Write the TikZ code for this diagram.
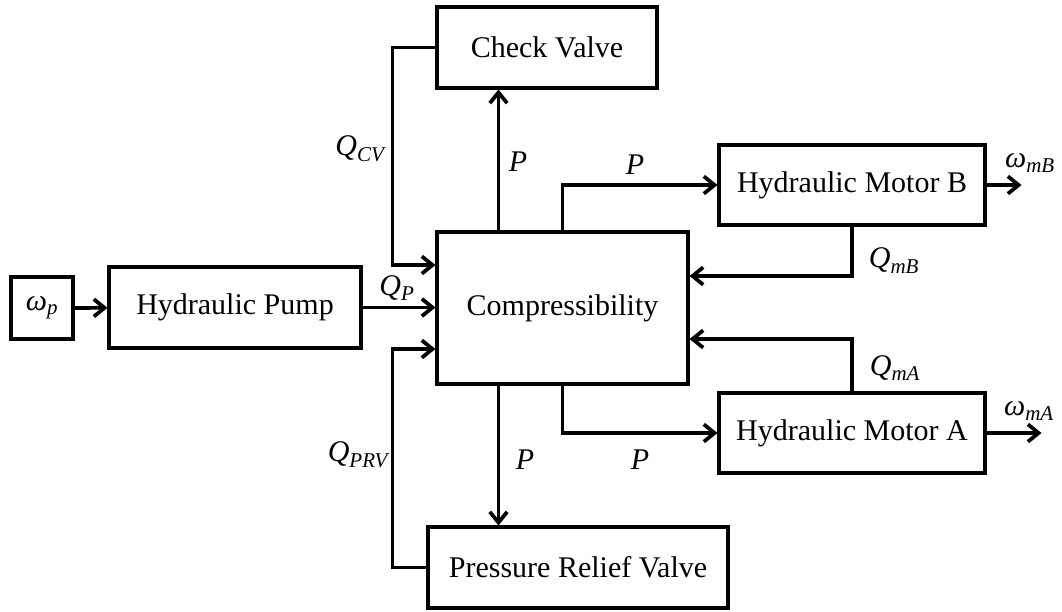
\documentclass[tikz,border=0pt]{standalone}
\usepackage{amsmath}
\usepackage{fontspec}
\setmainfont{Liberation Serif}
\usetikzlibrary{arrows.meta,calc}
\newdimen\px \px=0.75pt
\newcommand\vi[1]{\textit{#1}}
\begin{document}
\begin{tikzpicture}[x=0.75pt,y=-0.75pt,
  blk/.style={draw,line width=2.3pt,inner sep=0pt,font=\fontsize{22.5}{27}\selectfont},
  lbl/.style={inner sep=0pt,font=\fontsize{22.5}{27}\selectfont},
  arr/.style={line width=2.8pt,-{Straight Barb[length=8pt,width=13pt]}}]
\useasboundingbox (0,0) rectangle (1062,611);
% blocks
\node[blk,minimum width=62\px,minimum height=62\px] (wp) at (42,308) {$\vi{ω}_{\vi{p}}$};
\node[blk,minimum width=252\px,minimum height=81\px] (pump) at (235,307.5) {Hydraulic Pump};
\node[blk,minimum width=220\px,minimum height=81\px] (cv) at (547,47.5) {Check Valve};
\node[blk,minimum width=251\px,minimum height=152\px] (comp) at (562.5,308) {Compressibility};
\node[blk,minimum width=266\px,minimum height=80\px] (mB) at (852,185) {Hydraulic Motor B};
\node[blk,minimum width=266\px,minimum height=80\px] (mA) at (852,433) {Hydraulic Motor A};
\node[blk,minimum width=300\px,minimum height=81\px] (prv) at (578,567.5) {Pressure Relief Valve};
% connectors
\draw[arr] (wp) -- (pump);
\draw[arr] (pump) -- (pump -| comp.west);
\draw[arr] (cv.west) -- ++(-43,0) |- ($(comp.west)+(0,-43)$);
\draw[arr] (prv.west) -- ++(-34,0) |- ($(comp.west)+(0,41)$);
\coordinate (pu) at ($(comp.north west)+(63,0)$);
\draw[arr] (pu) -- (pu |- cv.south);
\coordinate (pd) at ($(comp.south west)+(63,0)$);
\draw[arr] (pd) -- (pd |- prv.north);
\draw[arr] (comp.north) |- (mB.west);
\draw[arr] (comp.south) |- (mA.west);
\draw[arr] (mB.south) |- ($(comp.east)+(0,-32)$);
\draw[arr] (mA.north) |- ($(comp.east)+(0,31)$);
\coordinate (oB) at ($(mB.east)+(35,0)$);
\coordinate (oA) at ($(mA.east)+(55,0)$);
\draw[arr] (mB.east) -- (oB);
\draw[arr] (mA.east) -- (oA);
% labels
\node[lbl] (lqp) at (397,288) {$\vi{Q}_{\vi{P}}$};
\node[lbl] (lqcv) at (360,149) {$\vi{Q}_{\vi{CV}}$};
\node[lbl] (lqprv) at (358,455) {$\vi{Q}_{\vi{PRV}}$};
\node[lbl] (lp1) at (518,162) {$\vi{P}$};
\node[lbl] (lp2) at (635,165) {$\vi{P}$};
\node[lbl] (lp3) at (525,460) {$\vi{P}$};
\node[lbl] (lp4) at (640,460) {$\vi{P}$};
\node[lbl] (lqmb) at (894,261) {$\vi{Q}_{\vi{mB}}$};
\node[lbl] (lqma) at (895,368) {$\vi{Q}_{\vi{mA}}$};
\node[lbl] (lwb) at (1030,163) {$\vi{ω}_{\vi{mB}}$};
\node[lbl] (lwa) at (1029,411) {$\vi{ω}_{\vi{mA}}$};
\end{tikzpicture}
\end{document}
